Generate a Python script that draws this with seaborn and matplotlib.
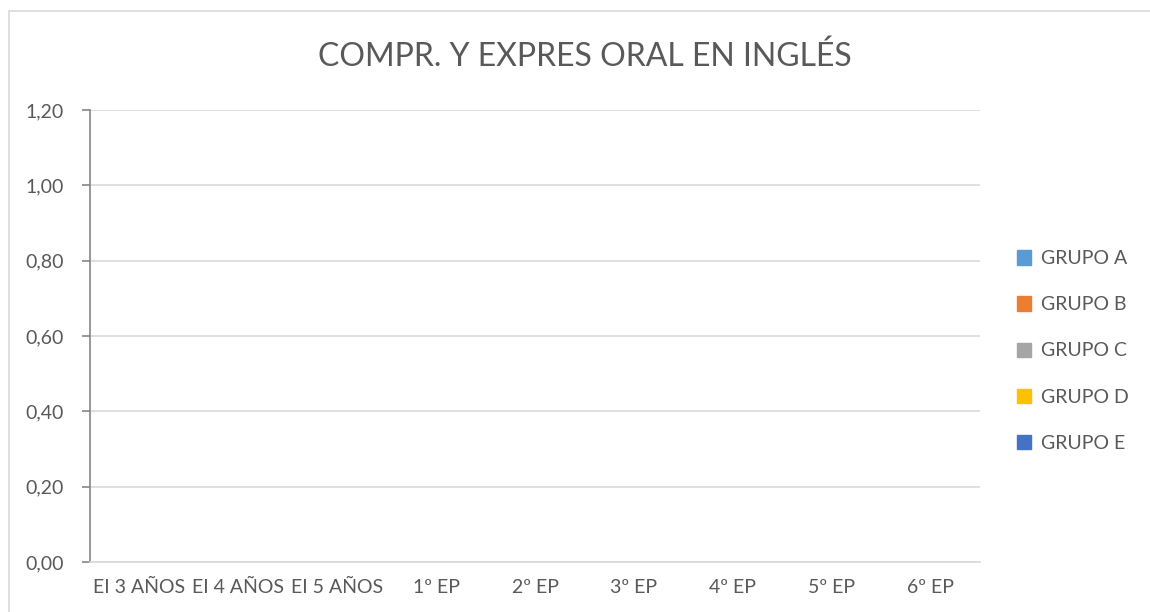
import numpy as np
import pandas as pd
import matplotlib
matplotlib.use("Agg")
import matplotlib.pyplot as plt
import matplotlib.patches as mpatches
import seaborn as sns

CATEGORIES = ["EI 3 AÑOS", "EI 4 AÑOS", "EI 5 AÑOS", "1º EP", "2º EP",
              "3º EP", "4º EP", "5º EP", "6º EP"]
GROUPS = ["GRUPO A", "GRUPO B", "GRUPO C", "GRUPO D", "GRUPO E"]
GRUPO_A = [0, 0, 0, 0, 0, 0, 0, 0, 0]
GRUPO_B = [0, 0, 0, 0, 0, 0, 0, 0, 0]
GRUPO_C = [0, 0, 0, 0, 0, 0, 0, 0, 0]
GRUPO_D = [0, 0, 0, 0, 0, 0, 0, 0, 0]
GRUPO_E = [0, 0, 0, 0, 0, 0, 0, 0, 0]
Y_TICKS = [0.0, 0.2, 0.4, 0.6, 0.8, 1.0, 1.2]

COLORS = ["#5B9BD5", "#ED7D31", "#A5A5A5", "#FFC000", "#4472C4"]
TEXT = "#595959"
GRID = "#D9D9D9"

df = pd.DataFrame({
    "curso": CATEGORIES * 5,
    "grupo": sum([[g] * len(CATEGORIES) for g in GROUPS], []),
    "valor": GRUPO_A + GRUPO_B + GRUPO_C + GRUPO_D + GRUPO_E,
})

sns.set_style("white")
plt.rcParams["font.family"] = ["Lato", "DejaVu Sans"]

fig = plt.figure(figsize=(11.5, 6.12), dpi=100)
ax = fig.add_axes([90 / 1150, 1 - 562 / 612, 890 / 1150, 452 / 612])

sns.barplot(data=df, x="curso", y="valor", hue="grupo", order=CATEGORIES,
            hue_order=GROUPS, palette=COLORS, ax=ax, legend=False)

ax.set_ylim(0, 1.2)
ax.set_yticks(Y_TICKS)
ax.set_yticklabels([f"{v:.2f}".replace(".", ",") for v in Y_TICKS])
ax.yaxis.grid(True, color=GRID, linewidth=1.2)
ax.set_axisbelow(True)
ax.set_xlabel("")
ax.set_ylabel("")

for s in ["top", "right"]:
    ax.spines[s].set_visible(False)
ax.spines["left"].set_color("#868686")
ax.spines["left"].set_linewidth(1.2)
ax.spines["bottom"].set_color(GRID)
ax.spines["bottom"].set_linewidth(1.2)

ax.tick_params(axis="y", left=True, length=6, width=1.2, color="#868686",
               labelsize=14, labelcolor=TEXT, pad=13)
ax.tick_params(axis="x", bottom=False, labelsize=14, labelcolor=TEXT, pad=9)

fig.text(0.509, 1 - 57 / 612, "COMPR. Y EXPRES ORAL EN INGLÉS", ha="center",
         va="center", fontsize=23, color=TEXT)

handles = [mpatches.Patch(color=c, label=g) for c, g in zip(COLORS, GROUPS)]
fig.legend(handles=handles, loc="center left", bbox_to_anchor=(999 / 1150, 1 - 351 / 612),
           frameon=False, fontsize=14, labelcolor=TEXT, handlelength=0.75,
           handleheight=0.75, handletextpad=0.5, labelspacing=1.5)

# chart border
fig.patches.append(mpatches.Rectangle((9 / 1150, -0.1), 1.2, 1 - 11 / 612 + 0.1,
                                      transform=fig.transFigure, fill=False,
                                      edgecolor=GRID, linewidth=1.2))

fig.savefig("out.png", dpi=100)
